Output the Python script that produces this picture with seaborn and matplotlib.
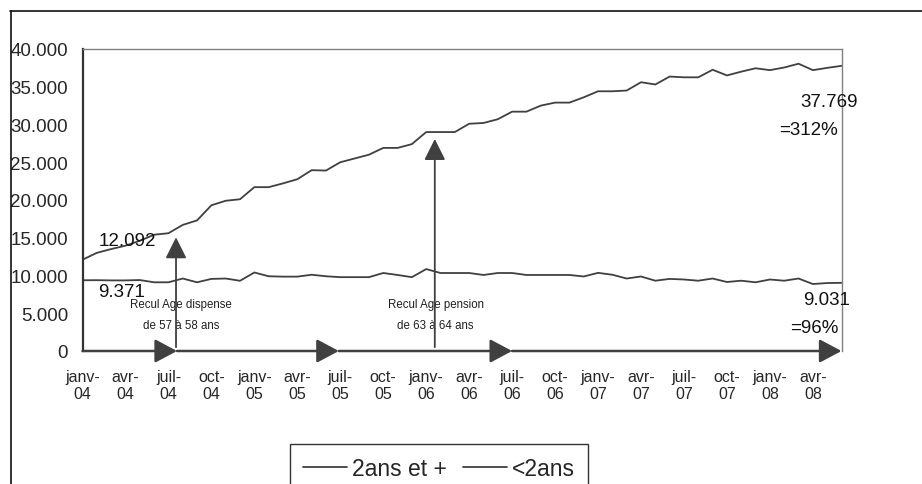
import matplotlib
matplotlib.use("Agg")
import matplotlib.pyplot as plt
import numpy as np
import pandas as pd
import seaborn as sns
from matplotlib.lines import Line2D
from matplotlib.ticker import FuncFormatter
from matplotlib import font_manager

# ---- données mensuelles, janv-04 à juin-08 ----
mois = ["janv", "févr", "mars", "avr", "mai", "juin",
        "juil", "août", "sept", "oct", "nov", "déc"]
annees = ["04", "05", "06", "07", "08"]
periodes = [f"{m}-{a}" for a in annees for m in mois][:54]

deux_ans_et_plus = [
    12092, 13000, 13500, 13950, 14600, 15400, 15600, 16700, 17300, 19300,
    19900, 20100, 21700, 21700, 22200, 22750, 23950, 23900, 25000, 25500,
    26000, 26900, 26900, 27400, 29000, 29000, 29000, 30100, 30200, 30700,
    31700, 31700, 32500, 32900, 32900, 33600, 34400, 34400, 34500, 35600,
    35300, 36350, 36250, 36250, 37250, 36500, 37000, 37450, 37200, 37550,
    38050, 37200, 37500, 37769,
]
moins_deux_ans = [
    9371, 9380, 9350, 9350, 9400, 9100, 9100, 9600, 9100, 9550,
    9600, 9300, 10400, 9900, 9850, 9850, 10100, 9900, 9780, 9780,
    9780, 10330, 10070, 9780, 10850, 10330, 10330, 10330, 10070, 10330,
    10330, 10070, 10070, 10070, 10070, 9870, 10350, 10100, 9600, 9870,
    9310, 9550, 9470, 9310, 9600, 9140, 9310, 9100, 9470, 9310,
    9600, 8870, 9000, 9031,
]
series = ["2ans et +", "<2ans"]

# étiquettes de l'axe des x : un trimestre sur trois mois
tick_pos = list(range(0, len(periodes), 3))
tick_labels = [periodes[i].replace("-", "-\n") for i in tick_pos]

# ---- mise en forme ----
sns.set_style("white")
names = {f.name for f in font_manager.fontManager.ttflist}
base = "Liberation Sans" if "Liberation Sans" in names else "DejaVu Sans"
narrow = "Liberation Sans Narrow" if "Liberation Sans Narrow" in names else None
plt.rcParams["font.family"] = [base, "DejaVu Sans"]

ink = "#404040"
fmt_milliers = lambda v: f"{int(round(v)):,}".replace(",", ".")

df = pd.DataFrame({
    "mois": list(range(len(periodes))) * 2,
    "effectif": deux_ans_et_plus + moins_deux_ans,
    "serie": [series[0]] * len(periodes) + [series[1]] * len(periodes),
})

W, H = 922, 485
fig = plt.figure(figsize=(W / 100, H / 100), dpi=100)
fig.patch.set_facecolor("white")
ax = fig.add_axes([82.5 / W, 1 - 352 / H, (841.5 - 82.5) / W, (352 - 50) / H])

sns.lineplot(data=df, x="mois", y="effectif", hue="serie",
             palette={series[0]: ink, series[1]: ink},
             linewidth=1.3, legend=False, ax=ax)

ax.set_xlim(0, len(periodes) - 1)
ax.set_ylim(0, 40000)
ax.set_xlabel("")
ax.set_ylabel("")
ax.set_yticks(range(0, 40001, 5000))
ax.yaxis.set_major_formatter(FuncFormatter(lambda v, p: fmt_milliers(v)))
ax.set_xticks(tick_pos)
ax.set_xticklabels(tick_labels, fontsize=11.5, linespacing=1.15)
ax.tick_params(axis="x", length=0, pad=13)
ax.tick_params(axis="y", length=3.3, width=1, color="#333333",
               pad=7, labelsize=13.5, direction="out")

for side in ("top", "right"):
    ax.spines[side].set_color("#808080")
    ax.spines[side].set_linewidth(1)
ax.spines["left"].set_color("#333333")
ax.spines["left"].set_linewidth(1.6)
ax.spines["bottom"].set_visible(False)


def fleche(x0, y0, x1, y1, hl, hw, lw):
    ax.annotate("", xy=(x1, y1), xytext=(x0, y0),
                arrowprops=dict(arrowstyle=f"-|>,head_length={hl},head_width={hw}",
                                color=ink, lw=lw, shrinkA=0, shrinkB=0,
                                mutation_scale=10),
                annotation_clip=False, zorder=5)


# axe des temps en segments fléchés
etapes = [0, 6.6, 17.9, 30.0, len(periodes) - 1]
for a, b in zip(etapes[:-1], etapes[1:]):
    fleche(a, 0, b, 0, 1.35, 0.72, 1.8)

# réformes
fleche(6.53, 500, 6.53, 15060, 1.3, 0.65, 1.3)
fleche(24.6, 500, 24.6, 28080, 1.3, 0.65, 1.3)

small_font = [narrow, base] if narrow else [base]
small_size = 10 if narrow else 8.3
for x, txt in [(6.9, ["Recul Age dispense", "de 57 à 58 ans"]),
               (24.65, ["Recul Age pension", "de 63 à 64 ans"])]:
    ax.text(x, 6225, txt[0], ha="center", va="center", fontsize=small_size,
            family=small_font, color="#202020", clip_on=False)
    ax.text(x, 3444, txt[1], ha="center", va="center", fontsize=small_size,
            family=small_font, color="#202020", clip_on=False)

# valeurs de début et de fin
lab = dict(fontsize=13.5, color="#111111", clip_on=False, va="center", zorder=6)
ax.text(1.15, 14610, fmt_milliers(deux_ans_et_plus[0]), ha="left", **lab)
ax.text(1.1, 7880, fmt_milliers(moins_deux_ans[0]), ha="left", **lab)
ax.text(54.13, 33110, fmt_milliers(deux_ans_et_plus[-1]), ha="right", **lab)
ax.text(52.78, 29340, f"={deux_ans_et_plus[-1] / deux_ans_et_plus[0] * 100:.0f}%",
        ha="right", **lab)
ax.text(53.6, 6780, fmt_milliers(moins_deux_ans[-1]), ha="right", **lab)
ax.text(52.78, 3140, f"={moins_deux_ans[-1] / moins_deux_ans[0] * 100:.0f}%",
        ha="right", **lab)

# légende
handles = [Line2D([], [], color=ink, lw=1.3) for _ in series]
leg = fig.legend(handles, series, loc="upper left",
                 bbox_to_anchor=(290 / W, 1 - 445 / H), ncol=2,
                 fontsize=16.5, frameon=True, fancybox=False, shadow=False,
                 borderaxespad=0, borderpad=0.55, handlelength=1.95,
                 handletextpad=0.2, columnspacing=0.7)
leg.get_frame().set_edgecolor("#000000")
leg.get_frame().set_linewidth(1)

# cadre du graphique
fig.add_artist(Line2D([10.5 / W, 10.5 / W], [-0.05, 1 - 12 / H],
                      transform=fig.transFigure, color="#111111", lw=1.2))
fig.add_artist(Line2D([10 / W, 1.05], [1 - 12 / H, 1 - 12 / H],
                      transform=fig.transFigure, color="#111111", lw=1.2))

fig.savefig("out.png", dpi=100, facecolor="white")
